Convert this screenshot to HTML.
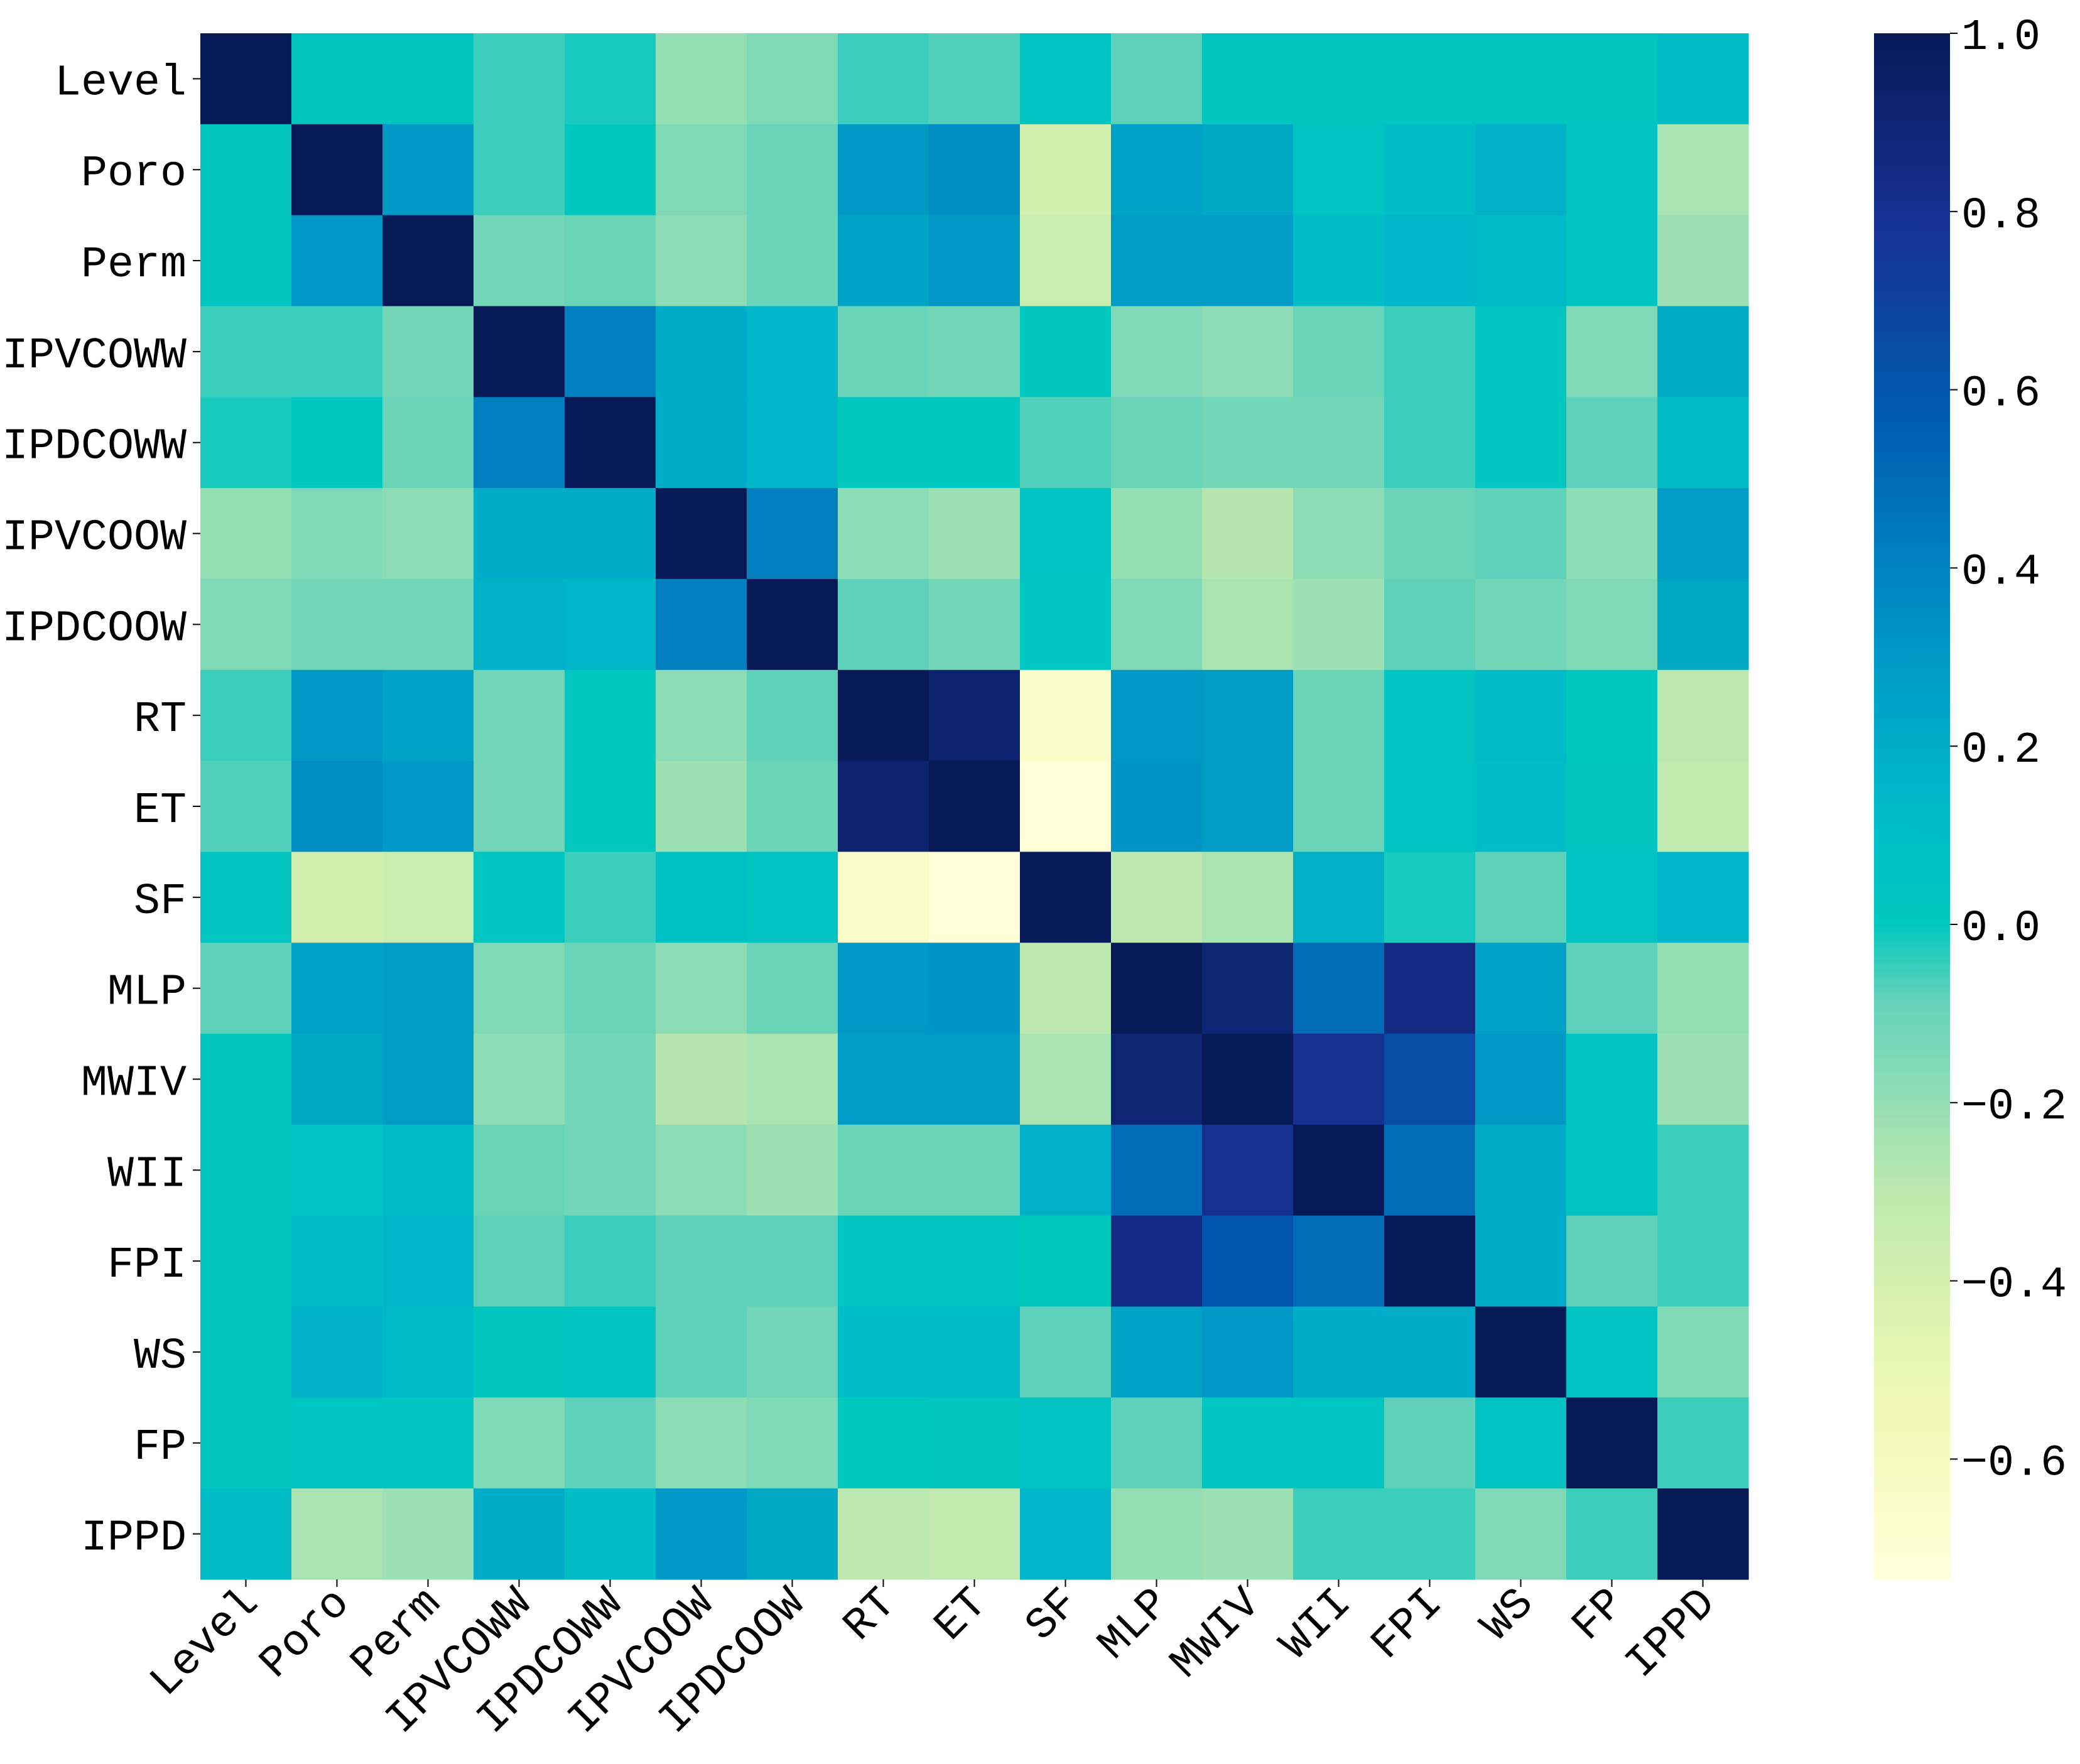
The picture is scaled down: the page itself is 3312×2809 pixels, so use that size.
<!DOCTYPE html>
<html><head><meta charset="utf-8"><style>
html,body{margin:0;padding:0;background:#fff;}
svg{display:block;}
text{font-family:"Liberation Mono","Noto Sans CJK SC",monospace;fill:#000;}
</style></head><body>
<svg id="chart" width="3312" height="2809" xmlns="http://www.w3.org/2000/svg">
<defs><linearGradient id="cbgrad" x1="0" y1="1" x2="0" y2="0"></linearGradient></defs>
<g id="cells"></g>
<g id="ylabels"></g>
<g id="xlabels"></g>
<g id="cbar"></g>
</svg>
<script>
const labels = ["Level","Poro","Perm","IPVCOWW","IPDCOWW","IPVCOOW","IPDCOOW","RT","ET","SF","MLP","MWIV","WII","FPI","WS","FP","IPPD"];
const r0 = [1,0.02,0.02,-0.05,-0.02,-0.2,-0.15,-0.05,-0.07,0.05,-0.08,0.02,0.02,0.02,0.02,0.02,0.1];
const r1 = [0.02,1,0.3,-0.05,0.0,-0.15,-0.1,0.3,0.35,-0.4,0.25,0.22,0.05,0.1,0.18,0.03,-0.25];
const r2 = [0.02,0.3,1,-0.12,-0.1,-0.18,-0.1,0.25,0.3,-0.35,0.28,0.28,0.1,0.15,0.12,0.03,-0.22];
const r3 = [-0.05,-0.05,-0.12,1,0.42,0.2,0.15,-0.1,-0.12,0.02,-0.15,-0.18,-0.1,-0.05,0.03,-0.15,0.2];
const r4 = [-0.02,0.0,-0.1,0.42,1,0.2,0.15,0.0,0.0,-0.07,-0.1,-0.12,-0.12,-0.05,0.03,-0.08,0.1];
const r5 = [-0.2,-0.15,-0.18,0.2,0.2,1,0.42,-0.18,-0.22,0.05,-0.2,-0.28,-0.18,-0.1,-0.08,-0.18,0.28];
const r6 = [-0.15,-0.12,-0.12,0.18,0.15,0.42,1,-0.08,-0.12,0.03,-0.15,-0.25,-0.22,-0.08,-0.12,-0.15,0.22];
const r7 = [-0.05,0.3,0.25,-0.12,0.0,-0.18,-0.08,1,0.92,-0.65,0.3,0.28,-0.1,0.05,0.12,0.0,-0.3];
const r8 = [-0.07,0.35,0.3,-0.12,0.0,-0.22,-0.1,0.92,1,-0.72,0.32,0.28,-0.1,0.05,0.1,0.02,-0.32];
const r9 = [0.03,-0.4,-0.35,0.03,-0.05,0.08,0.05,-0.65,-0.72,1,-0.3,-0.25,0.18,-0.02,-0.08,0.05,0.15];
const r10 = [-0.08,0.25,0.28,-0.15,-0.1,-0.18,-0.1,0.3,0.32,-0.3,1,0.9,0.5,0.85,0.25,-0.08,-0.2];
const r11 = [0.02,0.22,0.28,-0.18,-0.12,-0.28,-0.25,0.28,0.28,-0.25,0.9,1,0.8,0.65,0.3,0.03,-0.22];
const r12 = [0.02,0.05,0.1,-0.1,-0.12,-0.18,-0.22,-0.1,-0.1,0.18,0.5,0.8,1,0.5,0.2,0.03,-0.05];
const r13 = [0.02,0.1,0.15,-0.08,-0.05,-0.08,-0.08,0.03,0.03,0.0,0.85,0.6,0.5,1,0.2,-0.08,-0.05];
const r14 = [0.02,0.18,0.12,0.02,0.03,-0.08,-0.12,0.1,0.1,-0.08,0.25,0.3,0.2,0.2,1,0.05,-0.15];
const r15 = [0.02,0.03,0.03,-0.15,-0.08,-0.18,-0.15,0.0,0.02,0.05,-0.08,0.03,0.03,-0.08,0.05,1,-0.05];
const r16 = [0.1,-0.25,-0.22,0.2,0.1,0.3,0.22,-0.3,-0.32,0.15,-0.2,-0.22,-0.05,-0.05,-0.15,-0.05,1];
const matrix = [r0,r1,r2,r3,r4,r5,r6,r7,r8,r9,r10,r11,r12,r13,r14,r15,r16];
const cbTicks = [1.0,0.8,0.6,0.4,0.2,0.0,-0.2,-0.4,-0.6];
const cbTickLabels = ["1.0","0.8","0.6","0.4","0.2","0.0","\u22120.2","\u22120.4","\u22120.6"];
const vmin = -0.735, vmax = 1.0;

const NS = "http://www.w3.org/2000/svg";
const X0 = 319, X1 = 2784, Y0 = 53, Y1 = 2515;
const n = labels.length;
const cw = (X1 - X0) / n, ch = (Y1 - Y0) / n;
const stops = [[0,[255,255,217]],[0.125,[237,248,177]],[0.25,[190,232,175]],[0.375,[100,210,186]],[0.424,[0,200,190]],[0.5,[0,186,200]],[0.625,[0,142,196]],[0.75,[0,92,176]],[0.875,[22,50,148]],[1,[8,25,88]]];
function color(v){
  let t = (v - vmin) / (vmax - vmin); t = Math.max(0, Math.min(1, t));
  for (let i = 1; i < stops.length; i++) {
    if (t <= stops[i][0]) {
      const a = stops[i-1], b = stops[i], f = (t - a[0]) / (b[0] - a[0]);
      const c = a[1].map((x, k) => Math.round(x + (b[1][k] - x) * f));
      return "rgb(" + c.join(",") + ")";
    }
  }
  return "rgb(8,25,88)";
}
function xPos(j){ return X0 + j * cw; }
function yPos(i){ return Y0 + i * ch; }
function mk(tag, attrs){ const e = document.createElementNS(NS, tag); for (const k in attrs) e.setAttribute(k, attrs[k]); return e; }

const cells = document.getElementById("cells");
matrix.forEach((row, i) => row.forEach((v, j) => {
  const r = mk("rect", {x: xPos(j), y: yPos(i), width: cw + 0.6, height: ch + 0.6, fill: color(v)});
  
  
  cells.appendChild(r);
}));

const yl = document.getElementById("ylabels");
const xl = document.getElementById("xlabels");
labels.forEach((lab, i) => {
  const cy = yPos(i) + ch / 2;
  const tk = mk("line", {x1: X0 - 12, x2: X0, y1: cy, y2: cy, stroke: "#000", "stroke-width": 2});
  
  
  yl.appendChild(tk);
  const t = mk("text", {x: X0 - 22, y: cy + 25, "text-anchor": "end", "font-size": 70});
  t.textContent = lab;
  
  
  yl.appendChild(t);

  const cx = xPos(i) + cw / 2;
  const tk2 = mk("line", {x1: cx, x2: cx, y1: Y1, y2: Y1 + 12, stroke: "#000", "stroke-width": 2});
  
  
  xl.appendChild(tk2);
  const tx = cx + 22, ty = Y1 + 40;
  const t2 = mk("text", {x: tx, y: ty, "text-anchor": "end", "font-size": 70, transform: "rotate(-45 " + tx + " " + ty + ")"});
  t2.textContent = lab;
  
  
  xl.appendChild(t2);
});

const CB0 = 2984, CB1 = 3105;
const grad = document.getElementById("cbgrad");
for (let k = 0; k <= 40; k++) {
  const v = vmin + (vmax - vmin) * k / 40;
  grad.appendChild(mk("stop", {offset: (k / 40), "stop-color": color(v)}));
}
const cb = document.getElementById("cbar");
const cr = mk("rect", {x: CB0, y: Y0, width: CB1 - CB0, height: Y1 - Y0, fill: "url(#cbgrad)"});


cb.appendChild(cr);
function cbY(v){ return Y1 - (v - vmin) / (vmax - vmin) * (Y1 - Y0); }
cbTicks.forEach((v, k) => {
  const y = cbY(v);
  const l = mk("line", {x1: CB1, x2: CB1 + 12, y1: y, y2: y, stroke: "#000", "stroke-width": 2});
  
  
  cb.appendChild(l);
  const t = mk("text", {x: CB1 + 18, y: y + 25, "font-size": 70});
  t.textContent = cbTickLabels[k];
  
  
  cb.appendChild(t);
});
</script>
</body></html>
